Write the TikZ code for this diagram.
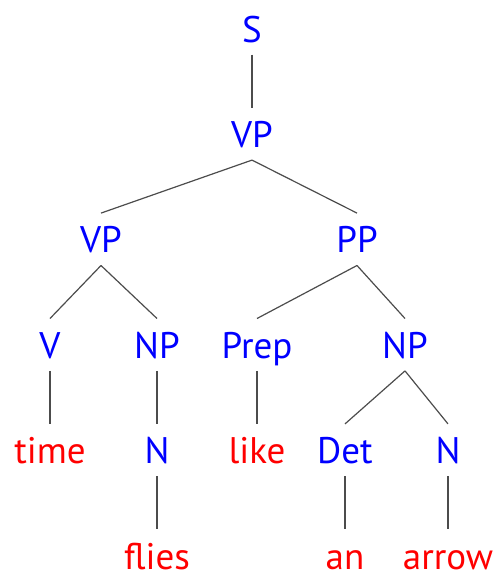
\documentclass[tikz,border=0pt]{standalone}
\usepackage{fontspec}
\setmainfont{PT Sans}
\usepackage{tikz}

\begin{document}
\begin{tikzpicture}[x=1pt,y=1pt,node distance=105.4pt,
  every node/.style={font=\fontsize{37}{40}\selectfont,text height=27pt,text depth=0pt,inner xsep=0pt,inner ysep=12.5pt},
  cat/.style={text=blue},
  word/.style={text=red},
  leaf/.style={text=red,inner ysep=0pt},
  branch/.style={draw=black!70,line width=1.2pt}]
\useasboundingbox (0,0) rectangle (495,-573);
\node [cat] (s) at (252,-28.5) {S};
\node [cat, below of=s] (vp) {VP};
\node [cat, below of=vp, xshift=-151pt] (vpl) {VP};
\node [cat, below of=vp, xshift=105pt] (pp) {PP};
\node [cat, below of=vpl, xshift=-51pt] (v) {V};
\node [cat, below of=vpl, xshift=56pt] (npl) {NP};
\node [cat, below of=pp, xshift=-100pt] (prep) {Prep};
\node [cat, below of=pp, xshift=48pt] (npr) {NP};
\node [word, below of=v] (time) {time};
\node [cat, below of=npl] (nl) {N};
\node [word, below of=prep] (like) {like};
\node [cat, below of=npr, xshift=-60pt] (det) {Det};
\node [cat, below of=npr, xshift=43pt] (nr) {N};
\node [leaf, below of=nl] (flies) {flies};
\node [leaf, below of=det] (an) {an};
\node [leaf, below of=nr] (arrow) {arrow};
\draw [branch] (s.south) -- (vp.north);
\draw [branch] (vp.south) -- (vpl.north);
\draw [branch] (vp.south) -- (pp.north);
\draw [branch] (vpl.south) -- (v.north);
\draw [branch] (vpl.south) -- (npl.north);
\draw [branch] (pp.south) -- (prep.north);
\draw [branch] (pp.south) -- (npr.north);
\draw [branch] (v.south) -- (time.north);
\draw [branch] (npl.south) -- (nl.north);
\draw [branch] (prep.south) -- (like.north);
\draw [branch] (npr.south) -- (det.north);
\draw [branch] (npr.south) -- (nr.north);
\draw [branch, shorten >=12.5pt] (nl.south) -- (flies.north);
\draw [branch, shorten >=12.5pt] (det.south) -- (an.north);
\draw [branch, shorten >=12.5pt] (nr.south) -- (arrow.north);
\end{tikzpicture}
\end{document}
